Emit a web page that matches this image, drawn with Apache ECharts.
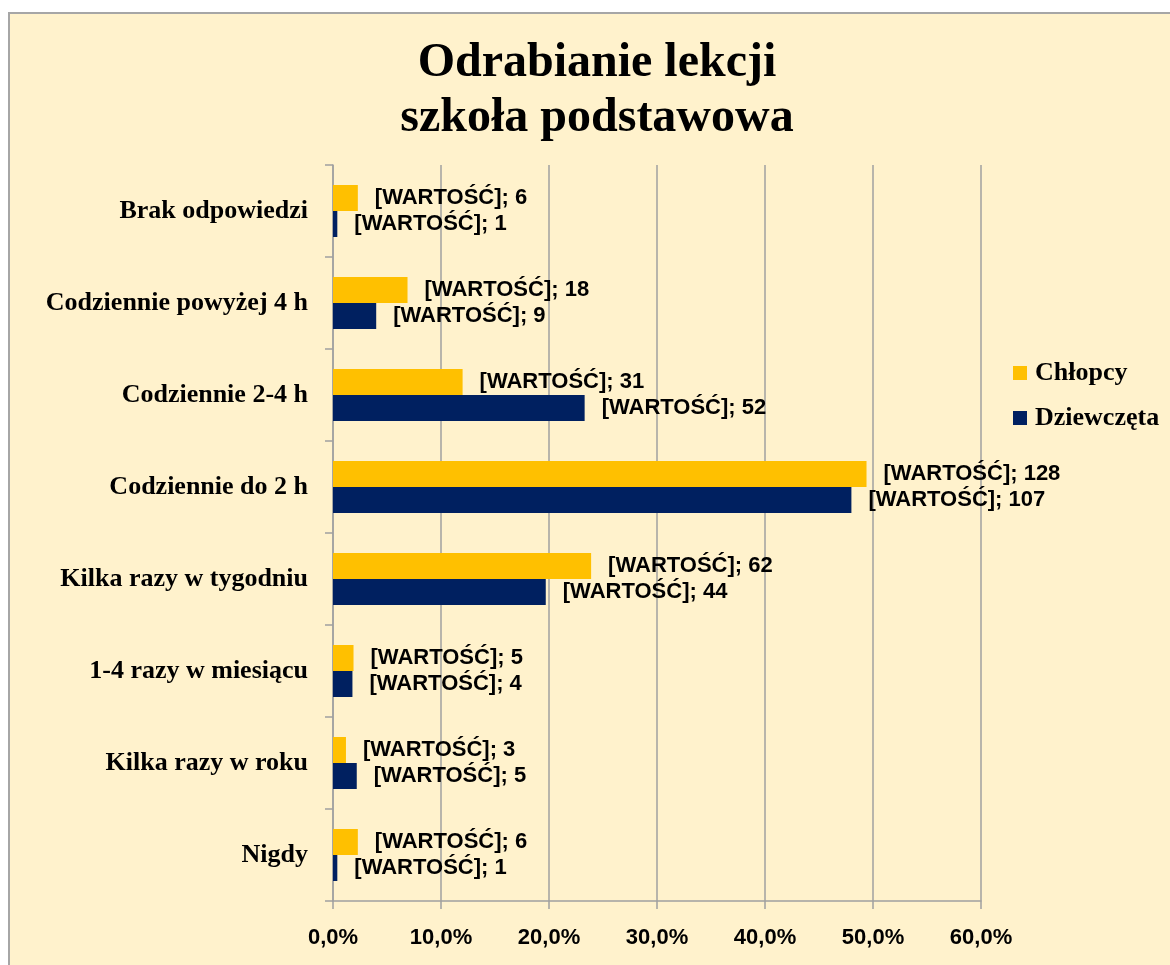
<!DOCTYPE html>
<html>
<head>
<meta charset="utf-8">
<script src="https://cdn.jsdelivr.net/npm/echarts@6/dist/echarts.min.js"></script>
<style>
  html, body { margin: 0; padding: 0; background: #fff; overflow: hidden; }
  #frame {
    position: absolute; left: 8px; top: 12px; width: 1200px; height: 1000px;
    border: 2px solid #a6a6a6; background: #fff2cc;
  }
  #chart { position: absolute; left: 0; top: 0; width: 1170px; height: 965px; }
</style>
</head>
<body>
<div id="frame"></div>
<div id="chart"></div>
<script>
// kategorie od dołu do góry (oś y rośnie w górę)
const categories = ['Nigdy', 'Kilka razy w roku', '1-4 razy w miesiącu', 'Kilka razy w tygodniu',
  'Codziennie do 2 h', 'Codziennie 2-4 h', 'Codziennie powyżej 4 h', 'Brak odpowiedzi']
// odsetek (%)
const boysPct = [2.3, 1.2, 1.9, 23.9, 49.4, 12.0, 6.9, 2.3]
const girlsPct = [0.4, 2.2, 1.8, 19.7, 48.0, 23.3, 4.0, 0.4]
// liczebności z etykiet
const boysCount = [6, 3, 5, 62, 128, 31, 18, 6]
const girlsCount = [1, 5, 4, 44, 107, 52, 9, 1]
const xTicks = [0, 10, 20, 30, 40, 50, 60]

const serif = '"Liberation Serif", "Times New Roman", serif'
const sans = '"Liberation Sans", Arial, sans-serif'

const label = (counts) => ({
  show: true,
  position: 'right',
  distance: 17,
  color: '#000',
  fontFamily: sans,
  fontWeight: 'bold',
  fontSize: 22,
  formatter: (p) => '[WARTOŚĆ]; ' + counts[p.dataIndex],
})

const option = {
  animation: false,
  color: ['#ffc000', '#002060'],
  title: {
    text: 'Odrabianie lekcji\nszkoła podstawowa',
    left: 597,
    top: 36,
    padding: 0,
    textAlign: 'center',
    textStyle: { fontFamily: serif, fontWeight: 'bold', fontSize: 48, lineHeight: 55, color: '#000' },
  },
  legend: {
    orient: 'vertical',
    left: 1013,
    top: 360,
    padding: 0,
    itemWidth: 14,
    itemHeight: 14,
    itemGap: 19,
    icon: 'rect',
    data: ['Chłopcy', 'Dziewczęta'],
    textStyle: { fontFamily: serif, fontWeight: 'bold', fontSize: 26, color: '#000', padding: [0, 0, 0, 3] },
  },
  grid: { left: 333, top: 165, width: 648, height: 736, containLabel: false },
  xAxis: {
    type: 'value',
    min: xTicks[0],
    max: xTicks[xTicks.length - 1],
    interval: 10,
    axisLine: { show: true, lineStyle: { color: '#a0a0a0', width: 1.5 } },
    axisTick: { show: true, length: 8, lineStyle: { color: '#a0a0a0', width: 1.5 } },
    splitLine: { show: true, lineStyle: { color: '#a0a0a0', width: 1.5 } },
    axisLabel: {
      margin: 26,
      color: '#000',
      fontFamily: sans,
      fontWeight: 'bold',
      fontSize: 22,
      formatter: (v) => v.toFixed(1).replace('.', ',') + '%',
    },
  },
  yAxis: {
    type: 'category',
    data: categories,
    axisLine: { show: true, lineStyle: { color: '#a0a0a0', width: 1.5 } },
    axisTick: { show: true, length: 8, lineStyle: { color: '#a0a0a0', width: 1.5 } },
    axisLabel: { margin: 25, color: '#000', fontFamily: serif, fontWeight: 'bold', fontSize: 26 },
  },
  series: [
    { name: 'Chłopcy', type: 'bar', data: boysPct, barWidth: 26, barGap: '0%', label: label(boysCount) },
    { name: 'Dziewczęta', type: 'bar', data: girlsPct, barWidth: 26, barGap: '0%', label: label(girlsCount) },
  ],
}

const chart = echarts.init(document.getElementById('chart'))
chart.setOption(option)
window.onresize = function () {
  chart.resize()
}
</script>
</body>
</html>
